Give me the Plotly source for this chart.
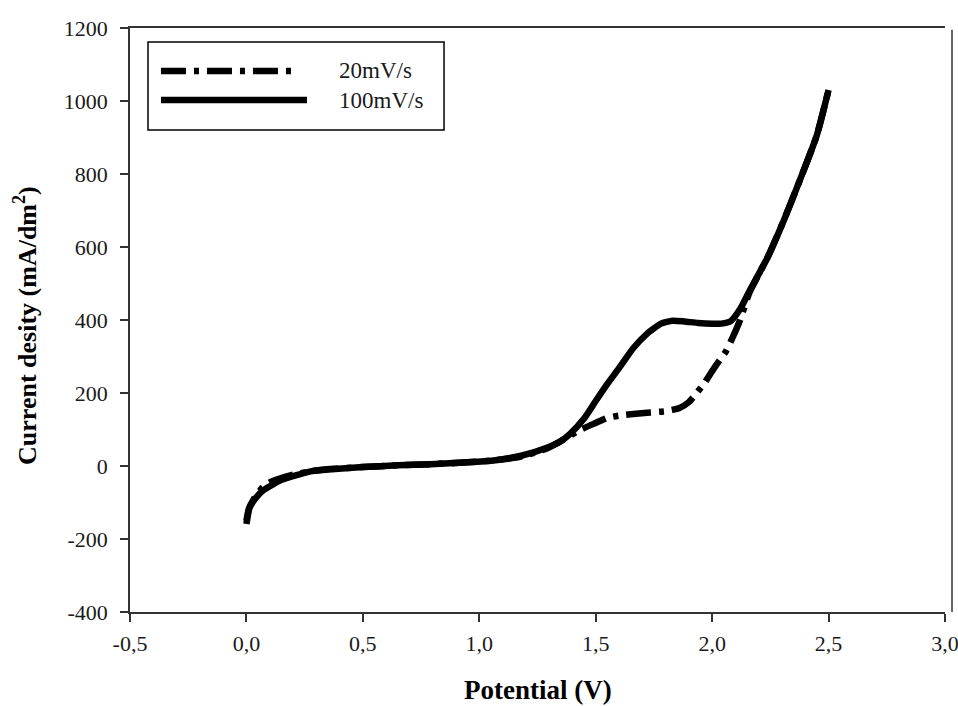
import plotly.graph_objects as go

# Cyclic voltammetry scans: potential (V) vs current density (mA/dm2)
scan_20_v = [0.00, 0.01, 0.03, 0.07, 0.10, 0.14, 0.20, 0.28, 0.36, 0.50, 0.65, 0.79,
             0.95, 1.07, 1.18, 1.29, 1.36, 1.43, 1.50, 1.55, 1.60, 1.65, 1.72, 1.80,
             1.86, 1.90, 1.93, 1.97, 2.00, 2.03, 2.06, 2.09, 2.12, 2.16, 2.237, 2.309,
             2.381, 2.449, 2.50]
scan_20_i = [-150, -118, -92, -58, -45, -35, -24, -14, -8, -3, 2, 5,
             10, 16, 26, 48, 72, 98, 118, 132, 138, 142, 146, 150,
             159, 175, 197, 230, 260, 288, 315, 355, 400, 475, 570, 675,
             790, 905, 1030]

scan_100_v = [0.00, 0.005, 0.013, 0.04, 0.07, 0.14, 0.20, 0.28, 0.38, 0.50, 0.65, 0.79,
              0.95, 1.07, 1.18, 1.29, 1.35, 1.39, 1.45, 1.50, 1.55, 1.60, 1.66, 1.72,
              1.78, 1.83, 1.88, 1.94, 2.00, 2.04, 2.08, 2.12, 2.16, 2.237, 2.309, 2.381,
              2.449, 2.50]
scan_100_i = [-159, -140, -115, -88, -68, -41, -28, -14, -8, -3, 2, 5,
              10, 16, 28, 50, 68, 88, 130, 178, 225, 268, 322, 362,
              390, 398, 396, 392, 390, 390, 397, 430, 479, 570, 675, 790,
              905, 1030]

series_names = ["20mV/s", "100mV/s"]

x_ticks = [-0.5, 0.0, 0.5, 1.0, 1.5, 2.0, 2.5, 3.0]
x_tick_text = ["-0,5", "0,0", "0,5", "1,0", "1,5", "2,0", "2,5", "3,0"]
y_ticks = [-400, -200, 0, 200, 400, 600, 800, 1000, 1200]
y_tick_text = [str(v) for v in y_ticks]

SERIF = "Liberation Serif, Times New Roman, serif"
DASHDOT = "25px,8px,5px,8px"
AXIS_COLOR = "#333333"
TEXT_COLOR = "#1a1a1a"

fig = go.Figure()
fig.add_trace(go.Scatter(x=scan_20_v, y=scan_20_i, mode="lines", name=series_names[0],
                         line=dict(color="black", width=6.5, dash=DASHDOT, shape="spline",
                                   smoothing=0.5),
                         showlegend=False))
fig.add_trace(go.Scatter(x=scan_100_v, y=scan_100_i, mode="lines", name=series_names[1],
                         line=dict(color="black", width=6.5, shape="spline", smoothing=0.5),
                         showlegend=False))

fig.update_xaxes(range=[-0.5, 3.0], tickvals=x_ticks, ticktext=x_tick_text,
                 automargin=False,
                 showgrid=False, zeroline=False, showline=True, linecolor=AXIS_COLOR,
                 linewidth=1.5, mirror=True, ticks="outside", ticklen=8, tickwidth=1.5,
                 tickcolor=AXIS_COLOR, ticklabelstandoff=3, ticklabeloverflow="allow",
                 tickfont=dict(family=SERIF, size=22, color=TEXT_COLOR))
fig.update_yaxes(range=[-400, 1200], tickvals=y_ticks, ticktext=y_tick_text,
                 automargin=False,
                 showgrid=False, zeroline=False, showline=True, linecolor=AXIS_COLOR,
                 linewidth=1.5, ticks="outside", ticklen=8, tickwidth=1.5,
                 tickcolor=AXIS_COLOR, ticklabelstandoff=8, ticklabeloverflow="allow",
                 tickfont=dict(family=SERIF, size=22, color=TEXT_COLOR))

shapes = [
    # right frame edge, set slightly off the x-axis end
    dict(type="line", xref="paper", yref="paper", x0=1.0086, x1=1.0086, y0=0.0, y1=0.997,
         line=dict(color=AXIS_COLOR, width=1.5)),
    # legend box
    dict(type="rect", xref="paper", yref="paper", x0=0.0221, x1=0.3853, y0=0.8253, y1=0.976,
         line=dict(color="black", width=1.5), fillcolor="white"),
    # legend samples
    dict(type="line", xref="paper", yref="paper", x0=0.038, x1=0.2012, y0=0.9264, y1=0.9264,
         line=dict(color="black", width=6.5, dash=DASHDOT)),
    dict(type="line", xref="paper", yref="paper", x0=0.038, x1=0.2172, y0=0.8767, y1=0.8767,
         line=dict(color="black", width=6.5)),
]

annotations = [
    dict(text=series_names[0], xref="paper", yref="paper", x=0.254, y=0.9264,
         xanchor="left", yanchor="middle", showarrow=False,
         font=dict(family=SERIF, size=23, color=TEXT_COLOR)),
    dict(text=series_names[1], xref="paper", yref="paper", x=0.254, y=0.8767,
         xanchor="left", yanchor="middle", showarrow=False,
         font=dict(family=SERIF, size=23, color=TEXT_COLOR)),
    dict(text="<b>Potential (V)</b>", xref="paper", yref="paper", x=0.5, y=-0.133,
         xanchor="center", yanchor="middle", showarrow=False,
         font=dict(family=SERIF, size=27, color="black")),
    dict(text="<b>Current desity (mA/dm<sup>2</sup>)</b>", xref="paper", yref="paper",
         x=-0.128, y=0.491, xanchor="center", yanchor="middle", textangle=-90,
         showarrow=False, font=dict(family=SERIF, size=26, color="black")),
]

fig.update_layout(width=958, height=706, margin=dict(l=130, r=13, t=28, b=94),
                  paper_bgcolor="white", plot_bgcolor="white",
                  shapes=shapes, annotations=annotations, showlegend=False)

fig.write_html("out.html")
